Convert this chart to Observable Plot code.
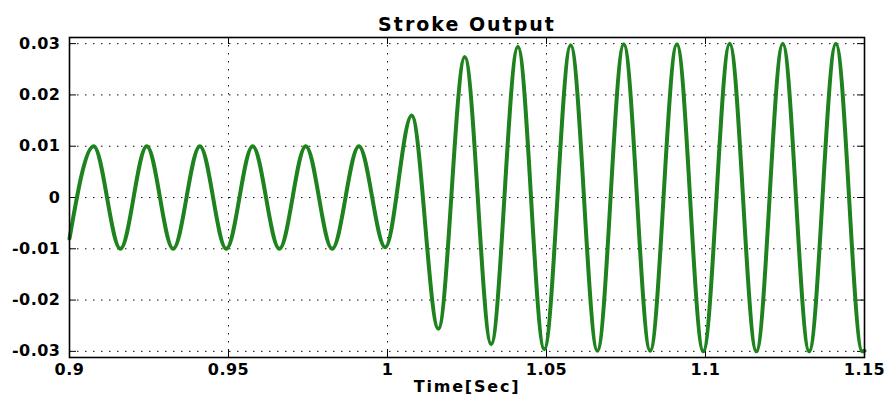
<!DOCTYPE html>
<html><head><meta charset="utf-8">
<script src="https://cdn.jsdelivr.net/npm/d3@7"></script>
<script src="https://cdn.jsdelivr.net/npm/@observablehq/plot@0.6"></script>
<style>body{margin:0;background:#fff}</style>
</head><body><div id="chart"></div>
<script>
// Extrema (and end points) of the stroke signal
const timeSec = [0.9000, 0.9076, 0.9160, 0.9243, 0.9326, 0.9410, 0.9493, 0.9576, 0.9660, 0.9743, 0.9826, 0.9910, 0.9993,
                 1.0076, 1.0160, 1.0243, 1.0326, 1.0410, 1.0493, 1.0576, 1.0660, 1.0743, 1.0826, 1.0910, 1.0993,
                 1.1076, 1.1160, 1.1243, 1.1326, 1.1410, 1.1493, 1.1500];
const stroke  = [-0.0080, 0.0100, -0.0100, 0.0100, -0.0100, 0.0100, -0.0100, 0.0100, -0.0100, 0.0100, -0.0100, 0.0100, -0.0097,
                 0.0160, -0.0256, 0.0274, -0.0286, 0.0294, -0.0296, 0.0297, -0.0299, 0.0299, -0.0299, 0.0299, -0.0300,
                 0.0300, -0.0300, 0.0300, -0.0300, 0.0300, -0.0300, -0.0299];
const xTicks = [0.9, 0.95, 1, 1.05, 1.1, 1.15];
const yTicks = [-0.03, -0.02, -0.01, 0, 0.01, 0.02, 0.03];
const xDomain = [0.9, 1.15];
const yDomain = [-0.0312, 0.0312];
const title = "Stroke Output";
const xLabel = "Time[Sec]";

const data = timeSec.map((t, i) => ({t, v: stroke[i]}));
const W = 887, H = 402, mt = 37, mb = 45, ml = 69, mr = 23;
const ph = H - mt - mb, pw = W - ml - mr;
const tick = 7;
const gridStyle = {stroke: "#111", strokeOpacity: 1, strokeWidth: 1, strokeDasharray: "1.5,6.5"};

const chart = Plot.plot({
  width: W, height: H,
  marginTop: mt, marginBottom: mb, marginLeft: ml, marginRight: mr,
  style: {fontFamily: "DejaVu Sans", fontWeight: "bold", fontSize: "16px", color: "#000", background: "#fff"},
  x: {domain: xDomain},
  y: {domain: yDomain},
  marks: [
    Plot.gridX(xTicks, gridStyle),
    Plot.gridY(yTicks, gridStyle),
    Plot.tickX(xTicks, {x: d => d, insetBottom: ph - tick, stroke: "#000"}),
    Plot.tickX(xTicks, {x: d => d, insetTop: ph - tick, stroke: "#000"}),
    Plot.tickY(yTicks, {y: d => d, insetRight: pw - tick, stroke: "#000"}),
    Plot.tickY(yTicks, {y: d => d, insetLeft: pw - tick, stroke: "#000"}),
    Plot.line(data, {x: "t", y: "v", stroke: "#1e821e", strokeWidth: 4, curve: "monotone-x"}),
    Plot.frame({stroke: "#000", strokeWidth: 1.6}),
    Plot.axisX({ticks: xTicks, tickSize: 0, tickPadding: 6, tickFormat: d => String(d), label: null, fontSize: 16, fontWeight: "bold"}),
    Plot.axisY({ticks: yTicks, tickSize: 0, tickPadding: 9, tickFormat: d => String(d), label: null, fontSize: 16, fontWeight: "bold"}),
    Plot.text([title], {frameAnchor: "top", dy: -20, fontSize: 19, fontWeight: "bold", fill: "#000"}),
    Plot.text([xLabel], {frameAnchor: "bottom", dy: 34, fontSize: 16, fontWeight: "bold", fill: "#000"})
  ]
});
document.getElementById("chart").appendChild(chart);
const sel = d3.select(chart);
sel.selectAll("text").style("letter-spacing", "0.5px");
sel.selectAll("text").filter(function() { return this.textContent === title; }).style("letter-spacing", "2px");
sel.selectAll("text").filter(function() { return this.textContent === xLabel; }).style("letter-spacing", "1.8px");
</script>
</body></html>
